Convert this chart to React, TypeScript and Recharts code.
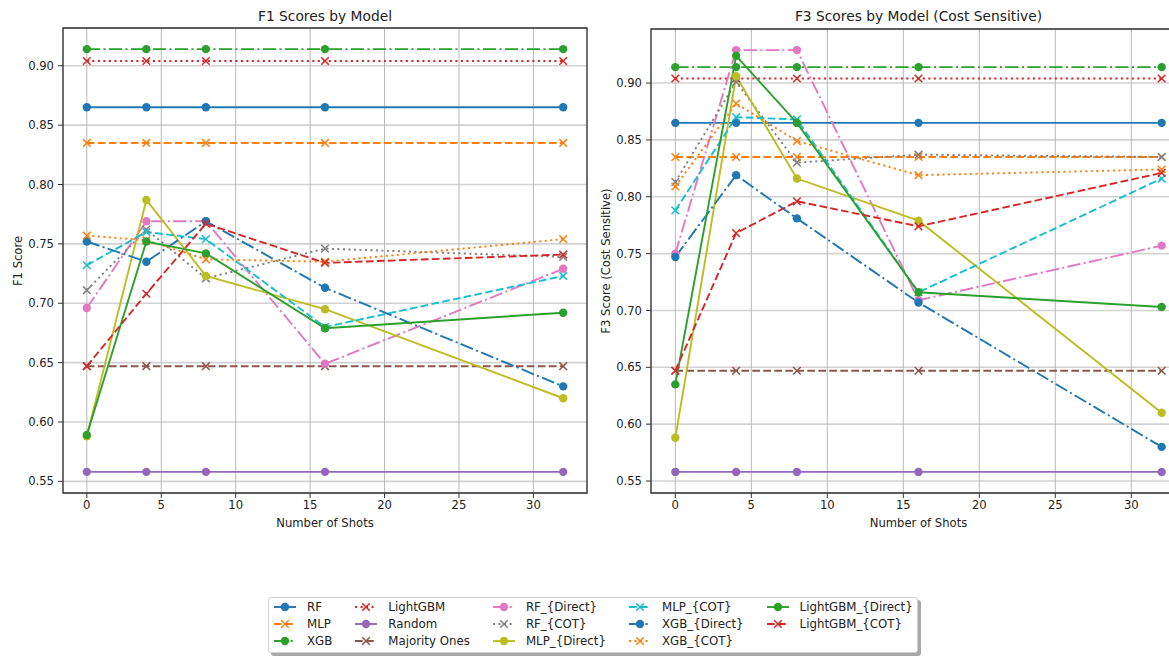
import React from 'react';
import { LineChart, Line, XAxis, YAxis, CartesianGrid, ReferenceArea } from 'recharts';

// x positions (number of shots)
const SHOTS = [0, 4, 8, 16, 32];

const SERIES_NAMES = [
  'RF', 'MLP', 'XGB', 'LightGBM', 'Random', 'Majority Ones',
  'RF_{Direct}', 'RF_{COT}', 'MLP_{Direct}', 'MLP_{COT}',
  'XGB_{Direct}', 'XGB_{COT}', 'LightGBM_{Direct}', 'LightGBM_{COT}',
];

// F1 scores
const F1_RF = [0.865, 0.865, 0.865, 0.865, 0.865];
const F1_MLP = [0.835, 0.835, 0.835, 0.835, 0.835];
const F1_XGB = [0.914, 0.914, 0.914, 0.914, 0.914];
const F1_LGBM = [0.904, 0.904, 0.904, 0.904, 0.904];
const F1_RANDOM = [0.558, 0.558, 0.558, 0.558, 0.558];
const F1_MAJORITY = [0.647, 0.647, 0.647, 0.647, 0.647];
const F1_RF_DIRECT = [0.696, 0.769, 0.769, 0.649, 0.729];
const F1_RF_COT = [0.711, 0.762, 0.721, 0.746, 0.739];
const F1_MLP_DIRECT = [0.588, 0.787, 0.723, 0.695, 0.620];
const F1_MLP_COT = [0.732, 0.760, 0.754, 0.680, 0.723];
const F1_XGB_DIRECT = [0.752, 0.735, 0.769, 0.713, 0.630];
const F1_XGB_COT = [0.757, 0.753, 0.737, 0.735, 0.754];
const F1_LGBM_DIRECT = [0.589, 0.752, 0.742, 0.679, 0.692];
const F1_LGBM_COT = [0.647, 0.708, 0.767, 0.734, 0.741];

// F3 scores (cost sensitive)
const F3_RF = [0.865, 0.865, 0.865, 0.865, 0.865];
const F3_MLP = [0.835, 0.835, 0.835, 0.835, 0.835];
const F3_XGB = [0.914, 0.914, 0.914, 0.914, 0.914];
const F3_LGBM = [0.904, 0.904, 0.904, 0.904, 0.904];
const F3_RANDOM = [0.558, 0.558, 0.558, 0.558, 0.558];
const F3_MAJORITY = [0.647, 0.647, 0.647, 0.647, 0.647];
const F3_RF_DIRECT = [0.750, 0.929, 0.929, 0.709, 0.757];
const F3_RF_COT = [0.813, 0.901, 0.830, 0.837, 0.835];
const F3_MLP_DIRECT = [0.588, 0.906, 0.816, 0.779, 0.610];
const F3_MLP_COT = [0.788, 0.870, 0.868, 0.716, 0.816];
const F3_XGB_DIRECT = [0.747, 0.819, 0.781, 0.707, 0.580];
const F3_XGB_COT = [0.809, 0.882, 0.849, 0.819, 0.824];
const F3_LGBM_DIRECT = [0.635, 0.924, 0.865, 0.716, 0.703];
const F3_LGBM_COT = [0.647, 0.768, 0.796, 0.774, 0.821];

const F1_SERIES = [
  F1_RF, F1_MLP, F1_XGB, F1_LGBM, F1_RANDOM, F1_MAJORITY,
  F1_RF_DIRECT, F1_RF_COT, F1_MLP_DIRECT, F1_MLP_COT,
  F1_XGB_DIRECT, F1_XGB_COT, F1_LGBM_DIRECT, F1_LGBM_COT,
];
const F3_SERIES = [
  F3_RF, F3_MLP, F3_XGB, F3_LGBM, F3_RANDOM, F3_MAJORITY,
  F3_RF_DIRECT, F3_RF_COT, F3_MLP_DIRECT, F3_MLP_COT,
  F3_XGB_DIRECT, F3_XGB_COT, F3_LGBM_DIRECT, F3_LGBM_COT,
];

const X_TICKS = [0, 5, 10, 15, 20, 25, 30];
const Y_TICKS = [0.55, 0.6, 0.65, 0.7, 0.75, 0.8, 0.85, 0.9];

// line styles, same order as SERIES_NAMES
const STYLES = [
  { color: '#1f77b4', dash: 'solid', marker: 'o' },
  { color: '#ff7f0e', dash: 'dashed', marker: 'x' },
  { color: '#2ca02c', dash: 'dashdot', marker: 'o' },
  { color: '#d62728', dash: 'dotted', marker: 'x' },
  { color: '#9467bd', dash: 'solid', marker: 'o' },
  { color: '#8c564b', dash: 'dashed', marker: 'x' },
  { color: '#e377c2', dash: 'dashdot', marker: 'o' },
  { color: '#7f7f7f', dash: 'dotted', marker: 'x' },
  { color: '#bcbd22', dash: 'solid', marker: 'o' },
  { color: '#17becf', dash: 'dashed', marker: 'x' },
  { color: '#1f77b4', dash: 'dashdot', marker: 'o' },
  { color: '#ff7f0e', dash: 'dotted', marker: 'x' },
  { color: '#2ca02c', dash: 'solid', marker: 'o' },
  { color: '#d62728', dash: 'dashed', marker: 'x' },
];

const DASH: Record<string, string | undefined> = {
  solid: undefined,
  dashed: '7.7 3.3',
  dotted: '2.1 3.4',
  dashdot: '13.3 3.3 2.1 3.3',
};

const FONT = '"DejaVu Sans", sans-serif';
const TEXT = '#222';
const FS = 11.6;

const Marker = ({ cx, cy, color, marker }: any) => {
  if (marker === 'x') {
    const s = 3.8;
    return (
      <path
        d={`M${cx - s},${cy - s}L${cx + s},${cy + s}M${cx - s},${cy + s}L${cx + s},${cy - s}`}
        stroke={color}
        strokeWidth={1.5}
        fill="none"
      />
    );
  }
  return <circle cx={cx} cy={cy} r={4.2} fill={color} />;
};

const buildRows = (values: number[][]) =>
  SHOTS.map((s, i) => {
    const row: any = { shots: s };
    values.forEach((v, k) => { row[`s${k}`] = v[i]; });
    return row;
  });

interface PanelProps {
  values: number[][];
  left: number;
  marginRight: number;
  top: number;
  title: string;
  yLabel: string;
}

const X_DOMAIN: [number, number] = [-1.6, 33.6];

const Panel = ({ values, left, marginRight, top, title, yLabel }: PanelProps) => {
  const data = buildRows(values);
  const all = values.flat();
  const lo = Math.min(...all);
  const hi = Math.max(...all);
  const pad = (hi - lo) * 0.05;
  const yDomain: [number, number] = [lo - pad, hi + pad];
  const plotLeft = left + 63;
  const plotRight = left + 600 - marginRight;

  return (
    <>
      <div
        style={{
          position: 'absolute', left: (plotLeft + plotRight) / 2, top: 16,
          transform: 'translate(-50%, -50%)', whiteSpace: 'nowrap',
          fontSize: 13.8, color: TEXT,
        }}
      >
        {title}
      </div>
      <div
        style={{
          position: 'absolute', left: left + 18, top: (top + 493) / 2,
          transform: 'translate(-50%, -50%) rotate(-90deg)', whiteSpace: 'nowrap',
          fontSize: FS, color: TEXT,
        }}
      >
        {yLabel}
      </div>
      <div style={{ position: 'absolute', left, top: 0 }}>
        <LineChart
          width={600}
          height={540}
          data={data}
          margin={{ top, right: marginRight, left: 0, bottom: 0 }}
        >
          <CartesianGrid vertical={false} stroke="#d2d2d2" strokeWidth={1.6} />
          <CartesianGrid horizontal={false} stroke="#b8b8b8" strokeWidth={1} />
          <XAxis
            dataKey="shots"
            type="number"
            domain={X_DOMAIN}
            allowDataOverflow
            ticks={X_TICKS}
            height={47}
            axisLine={false}
            tickSize={5}
            tickMargin={3}
            tickLine={{ stroke: '#333' }}
            tick={{ fontSize: FS, fill: TEXT, fontFamily: FONT }}
            label={{ value: 'Number of Shots', position: 'insideBottom', offset: 13, fontSize: FS, fill: TEXT, fontFamily: FONT }}
          />
          <YAxis
            type="number"
            domain={yDomain}
            allowDataOverflow
            ticks={Y_TICKS}
            width={63}
            axisLine={false}
            tickSize={5}
            tickMargin={4}
            tickLine={{ stroke: '#333' }}
            tick={{ fontSize: FS, fill: TEXT, fontFamily: FONT }}
            tickFormatter={(v: number) => v.toFixed(2)}
          />
          {SERIES_NAMES.map((name, k) => (
            <Line
              key={name}
              name={name}
              dataKey={`s${k}`}
              type="linear"
              stroke={STYLES[k].color}
              strokeWidth={1.9}
              strokeDasharray={DASH[STYLES[k].dash]}
              dot={(p: any) => (
                <Marker key={`${name}-${p.index}`} cx={p.cx} cy={p.cy} color={STYLES[k].color} marker={STYLES[k].marker} />
              )}
              activeDot={false}
              isAnimationActive={false}
            />
          ))}
          <ReferenceArea
            x1={X_DOMAIN[0]}
            x2={X_DOMAIN[1]}
            y1={yDomain[0]}
            y2={yDomain[1]}
            fill="none"
            fillOpacity={0}
            stroke="#333"
            strokeWidth={1.3}
            ifOverflow="visible"
          />
        </LineChart>
      </div>
    </>
  );
};

const LegendHandle = ({ k }: { k: number }) => {
  const st = STYLES[k];
  return (
    <svg width={22} height={10} style={{ display: 'block', flex: 'none' }}>
      <line x1={0} y1={5} x2={22} y2={5} stroke={st.color} strokeWidth={1.9} strokeDasharray={DASH[st.dash]} />
      <Marker cx={11} cy={5} color={st.color} marker={st.marker} />
    </svg>
  );
};

const LEGEND_COLUMNS = [[0, 1, 2], [3, 4, 5], [6, 7, 8], [9, 10, 11], [12, 13]];

const Legend = () => (
  <div
    style={{
      position: 'absolute', left: 268, top: 597, width: 650, height: 56,
      boxSizing: 'border-box', border: '1px solid #d0d0d0', borderRadius: 3,
      background: '#fff', boxShadow: '3px 3px 0 #a8a8a8',
      display: 'flex', gap: 23, padding: '0 0 0 5px', fontSize: 11.8, color: TEXT,
    }}
  >
    {LEGEND_COLUMNS.map((col, c) => (
      <div key={c} style={{ display: 'flex', flexDirection: 'column' }}>
        {col.map((k) => (
          <div key={k} style={{ display: 'flex', alignItems: 'center', height: 17, gap: 11 }}>
            <LegendHandle k={k} />
            <span style={{ whiteSpace: 'nowrap' }}>{SERIES_NAMES[k]}</span>
          </div>
        ))}
      </div>
    ))}
  </div>
);

export default function App() {
  return (
    <div
      style={{
        position: 'absolute', left: 0, top: 0, width: 1169, height: 656,
        overflow: 'hidden', background: '#fff', fontFamily: FONT,
      }}
    >
      <Panel values={F1_SERIES} left={0} marginRight={13} top={28} title="F1 Scores by Model" yLabel="F1 Score" />
      <Panel values={F3_SERIES} left={588} marginRight={2} top={29} title="F3 Scores by Model (Cost Sensitive)" yLabel="F3 Score (Cost Sensitive)" />
      <Legend />
    </div>
  );
}
